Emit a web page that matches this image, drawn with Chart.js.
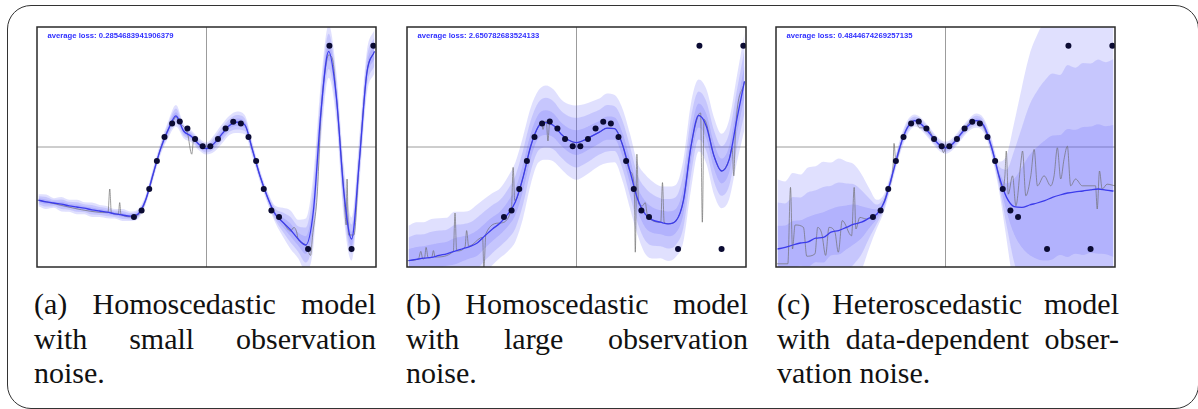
<!DOCTYPE html>
<html>
<head>
<meta charset="utf-8">
<script src="https://cdn.jsdelivr.net/npm/chart.js@4.4.0/dist/chart.umd.min.js"></script>
<style>
  body { margin: 0; background: #fff; width: 1198px; height: 409px; overflow: hidden; position: relative; }
  .box { position: absolute; left: 7px; top: 5px; width: 1192px; height: 404px; box-sizing: border-box;
         border: 1.3px solid #333; border-radius: 24px; }
  canvas { position: absolute; top: 23px; }
  .cap { position: absolute; top: 287px; width: 342px; font-family: "Liberation Serif", "DejaVu Serif", serif;
         font-size: 30px; line-height: 34.5px; color: #111; }
  .cap div { text-align: justify; text-align-last: justify; }
  .cap div.last { text-align-last: left; }
</style>
</head>
<body>
<div class="box"></div>
<canvas id="chartA" width="347" height="248" style="left:33px"></canvas>
<canvas id="chartB" width="347" height="248" style="left:403px"></canvas>
<canvas id="chartC" width="347" height="248" style="left:772px"></canvas>

<div class="cap" style="left:34px"><div>(a) Homoscedastic model</div><div>with small observation</div><div class="last">noise.</div></div>
<div class="cap" style="left:406px"><div>(b) Homoscedastic model</div><div>with large observation</div><div class="last">noise.</div></div>
<div class="cap" style="left:777px"><div>(c) Heteroscedastic model</div><div>with data-dependent obser-</div><div class="last">vation noise.</div></div>

<script>
// observed training points (same in every panel)
var obsX = [-9.5,-8.5,-7.5,-6.5,-5.5,-4.5,-3.5,-2.5,-1.5,-0.5,0.5,1.5,2.5,3.5,4.5,5.5,6.5,7.5,8.5,9.5,13.3,16.1,19.0,21.85];
var obsY = [-1.75,-1.59,-1.05,-0.35,0.25,0.59,0.64,0.46,0.20,0.02,0.02,0.20,0.46,0.63,0.59,0.25,-0.35,-1.05,-1.59,-1.75,-2.55,2.53,-2.55,2.53];

// prediction grid
var gridX = [-22,-21,-20,-19,-18,-17,-16,-15,-14,-13,-12,-11,-10,-9,-8,-7,-6,-5,-4,-3,-2,-1,0,
             1,2,3,4,5,6,7,8,9,10,11,12,13,14,15,16,17,18,19,20,21,22];

// predictive mean and spread per model
var meanA = [-1.33,-1.37,-1.40,-1.43,-1.47,-1.50,-1.53,-1.57,-1.60,-1.63,-1.67,-1.70,-1.73,-1.68,-1.34,-0.68,-0.04,0.44,0.78,0.40,0.27,0.07,-0.04,
             0.09,0.32,0.54,0.62,0.56,-0.06,-0.72,-1.26,-1.68,-1.88,-2.07,-2.30,-2.45,-1.60,0.90,2.39,1.27,-1.14,-2.30,-0.39,1.85,2.39];
var sigmaA = [.05,.06,.04,.06,.05,.06,.05,.06,.05,.05,.04,.05,.04,.04,.04,.05,.05,.07,.09,.06,.05,.05,.05,
              .07,.08,.08,.09,.08,.06,.05,.05,.07,.12,.16,.16,.22,.30,.25,.22,.20,.22,.18,.20,.18,.18];

var meanB = [-2.84,-2.81,-2.78,-2.76,-2.71,-2.67,-2.61,-2.55,-2.49,-2.40,-2.22,-2.05,-1.90,-1.68,-1.37,-0.76,0.02,0.51,0.61,0.54,0.32,0.17,0.11,
             0.17,0.27,0.37,0.47,0.46,0.07,-0.60,-1.30,-1.68,-1.83,-1.88,-1.92,-1.85,-1.34,0.02,0.79,0.52,-0.22,-0.60,-0.31,0.69,1.64];
var sigmaB = [.29,.31,.30,.32,.31,.30,.33,.31,.30,.32,.31,.30,.29,.31,.33,.34,.32,.30,.31,.30,.29,.30,.31,
              .30,.29,.28,.29,.28,.30,.31,.30,.33,.32,.30,.31,.30,.34,.36,.30,.31,.32,.31,.33,.36,.40];

var meanC = [-2.55,-2.51,-2.45,-2.40,-2.37,-2.28,-2.26,-2.13,-2.09,-2.01,-1.93,-1.88,-1.78,-1.68,-1.37,-0.72,-0.02,0.48,0.66,0.54,0.32,0.09,-0.02,
             0.09,0.32,0.54,0.66,0.54,0.02,-0.72,-1.26,-1.49,-1.51,-1.45,-1.40,-1.34,-1.26,-1.20,-1.15,-1.12,-1.10,-1.07,-1.05,-1.08,-1.10];
var sigmaC = [.58,.55,.60,.57,.62,.60,.63,.58,.60,.55,.50,.40,.25,.12,.07,.06,.06,.06,.05,.05,.05,.05,.05,
              .05,.05,.05,.06,.06,.07,.12,.35,.70,1.0,1.25,1.4,1.5,1.55,1.5,1.6,1.55,1.6,1.58,1.62,1.6,1.65];

// one drawn sample function per model
var sampleAX = [-22.15,-12.9,-12.67,-12.46,-11.54,-11.37,-11.2,-9.5,-8.5,-7.5,-6.5,-5.5,-4.5,-4,-3.5,-2.5,-1.93,-1.67,-1,0,1,2,3,4,5,6,7,8,9,10,11,11.46,11.8,12,13,13.63,13.9,14.5,15,15.6,16,16.5,17,18,18.3,18.41,18.6,19.3,20,21,22];
var sampleAY = [-1.33,-1.64,-1.05,-1.65,-1.68,-1.39,-1.69,-1.75,-1.59,-1.05,-0.35,0.25,0.60,0.75,0.60,0.35,-0.18,0.22,0.07,-0.04,0.09,0.32,0.54,0.62,0.56,-0.06,-0.72,-1.26,-1.68,-1.88,-2.10,-2.01,-2.12,-2.30,-2.45,-2.71,-2.20,-1.20,0.85,2.00,2.30,2.20,1.27,-1.14,-1.95,-0.80,-2.20,-2.20,-0.39,1.85,2.39];

var sampleBX = [-22.13,-20.7,-20.39,-20.13,-19.9,-19.7,-19.43,-18.96,-18.74,-18.52,-16.13,-15.91,-15.7,-14.6,-14.39,-14.13,-12.3,-12.13,-11.87,-10.04,-8.52,-8.3,-8.09,-7,-6,-5,-4.6,-4.39,-4.17,-3.96,-3.74,-3.52,-2,-1,0,1,2,3,4,5,6,7,7.57,7.7,7.91,8.13,8.65,9,9.3,11.04,11.26,11.48,12,13,14,15,16,16.26,16.48,16.7,18,19,20,20.39,20.6,20.83,22];
var sampleBY = [-2.84,-2.80,-2.61,-2.80,-2.78,-2.51,-2.77,-2.76,-2.59,-2.75,-2.61,-1.65,-2.60,-2.50,-2.09,-2.48,-2.26,-3.05,-2.17,-1.90,-1.55,-0.51,-1.34,-0.76,0.02,0.51,0.65,0.44,0.61,0.65,0.15,0.59,0.32,0.17,0.11,0.17,0.27,0.37,0.47,0.46,0.07,-0.60,-1.01,-2.63,-0.18,-1.43,-1.47,-1.39,-1.72,-1.88,-0.89,-1.88,-1.92,-1.85,-1.34,0.02,0.81,0.85,-1.88,0.69,-0.22,-0.60,-0.31,-0.02,-0.72,0.44,1.64];

var sampleCX = [-22.09,-20.65,-20.3,-20.04,-19.7,-18.6,-18.17,-17.09,-16.74,-16.2,-15.7,-15.26,-14.48,-14.04,-13.52,-12.3,-11.96,-11.74,-11.22,-10.35,-9.57,-8.52,-7.52,-6.87,-6.74,-6.52,-5.57,-4.48,-4,-3.39,-2.48,-1.52,-0.52,-0.26,0,0.48,1.52,2.52,3.52,4.52,5.52,6.52,7.52,7.78,7.96,8.22,8.78,9.22,9.87,10.09,10.52,11.17,11.61,12.04,12.91,13.78,14.22,14.65,15.09,15.52,15.96,16.39,17.04,17.91,19.65,19.87,20.17,20.52,21.17,22.2];
var sampleCY = [-2.92,-2.92,-1.01,-2.55,-1.95,-2.01,-2.73,-2.67,-2.01,-2.17,-2.71,-2.01,-2.13,-2.63,-1.84,-2.22,-1.01,-2.05,-1.76,-1.80,-1.74,-1.57,-1.04,-0.47,0.09,-0.33,0.26,0.63,0.66,0.48,0.48,0.21,-0.02,-0.14,-0.02,0.02,0.22,0.47,0.66,0.62,0.26,-0.33,-1.04,-0.72,-0.10,-1.18,-0.72,-1.47,-0.39,-0.10,-1.22,-0.72,-0.06,-0.97,-0.72,-0.97,-0.72,-0.02,-0.80,-0.31,0.02,-0.97,-0.80,-0.97,-0.97,-1.55,-0.60,-1.05,-0.93,-0.97];

var lossLabels = ['average loss: 0.2854683941906379',
                  'average loss: 2.650782683524133',
                  'average loss: 0.4844674269257135'];

var bandFill = 'rgba(90,90,250,0.19)';

// box around the plot area, zero cross-hair and the loss readout
var framePlugin = {
    id: 'frame',
    beforeDatasetsDraw: function(chart) {
        var ctx = chart.ctx, a = chart.chartArea;
        var x0 = chart.scales.x.getPixelForValue(0), y0 = chart.scales.y.getPixelForValue(0);
        ctx.save();
        ctx.strokeStyle = '#9c9c9c';
        ctx.lineWidth = 1;
        ctx.beginPath();
        ctx.moveTo(x0, a.top); ctx.lineTo(x0, a.bottom);
        ctx.moveTo(a.left, y0); ctx.lineTo(a.right, y0);
        ctx.stroke();
        ctx.restore();
    },
    afterDraw: function(chart, args, opts) {
        var ctx = chart.ctx, a = chart.chartArea;
        ctx.save();
        ctx.strokeStyle = '#2a2a2a';
        ctx.lineWidth = 1.5;
        ctx.strokeRect(a.left, a.top, a.width, a.height);
        ctx.font = 'bold 7.7px "Liberation Sans", Arial, sans-serif';
        ctx.fillStyle = '#3030ff';
        ctx.fillText(opts.label, a.left + 10.5, a.top + 10.5);
        ctx.restore();
    }
};

function points(xs, ys) {
    return xs.map(function(x, i) { return {x: x, y: ys[i]}; });
}

function band(mean, sigma, k) {
    var up = gridX.map(function(x, i) { return {x: x, y: mean[i] + k * sigma[i]}; });
    var lo = gridX.map(function(x, i) { return {x: x, y: mean[i] - k * sigma[i]}; });
    return [
        {data: up, fill: '+1', backgroundColor: bandFill, borderColor: 'transparent', borderWidth: 0,
         pointRadius: 0, cubicInterpolationMode: 'monotone', order: 5},
        {data: lo, fill: false, borderColor: 'transparent', borderWidth: 0,
         pointRadius: 0, cubicInterpolationMode: 'monotone', order: 5}
    ];
}

function makeChart(id, mean, sigma, sx, sy, label) {
    var ds = [
        {type: 'scatter', data: points(obsX, obsY), backgroundColor: '#0b0b33', borderWidth: 0,
         pointRadius: 3, showLine: false, order: 0},
        {data: points(gridX, mean), borderColor: 'rgb(60,60,235)', borderWidth: 1.3, pointRadius: 0,
         fill: false, cubicInterpolationMode: 'monotone', order: 1},
        {data: points(sx, sy), borderColor: 'rgba(110,110,110,0.85)', borderWidth: 0.8, pointRadius: 0,
         fill: false, cubicInterpolationMode: 'monotone', order: 2}
    ];
    ds = ds.concat(band(mean, sigma, 3), band(mean, sigma, 2), band(mean, sigma, 1));

    return new Chart(document.getElementById(id).getContext('2d'), {
        type: 'line',
        data: {datasets: ds},
        options: {
            responsive: false,
            animation: false,
            devicePixelRatio: 1,
            layout: {padding: 3},
            plugins: {legend: {display: false}, tooltip: {enabled: false}, frame: {label: label}},
            scales: {
                x: {type: 'linear', min: -22.2, max: 22.2, display: false},
                y: {type: 'linear', min: -3, max: 3, display: false}
            }
        },
        plugins: [framePlugin]
    });
}

makeChart('chartA', meanA, sigmaA, sampleAX, sampleAY, lossLabels[0]);
makeChart('chartB', meanB, sigmaB, sampleBX, sampleBY, lossLabels[1]);
makeChart('chartC', meanC, sigmaC, sampleCX, sampleCY, lossLabels[2]);
</script>
</body>
</html>
